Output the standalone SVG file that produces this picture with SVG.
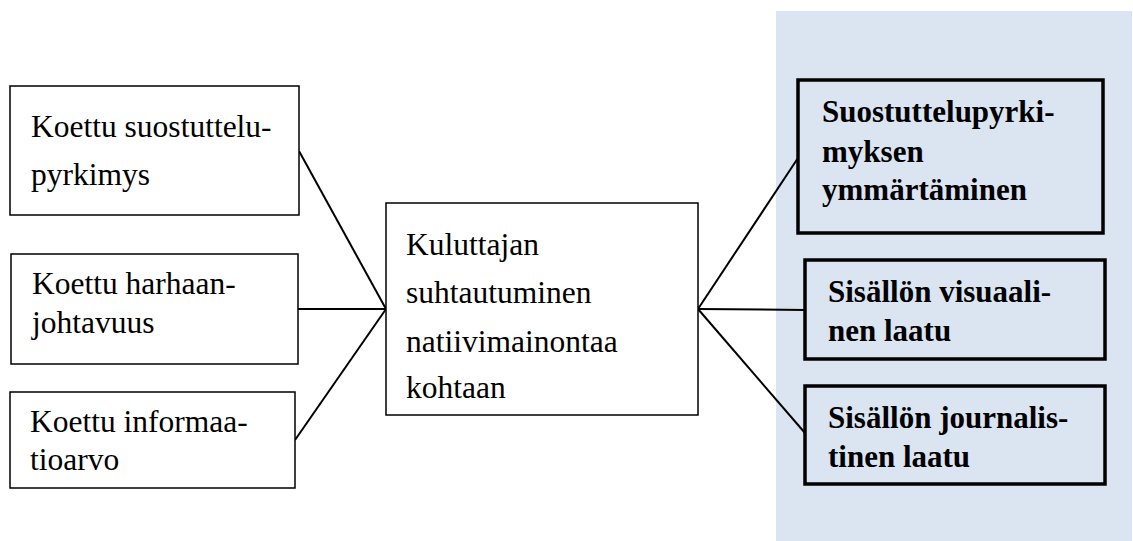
<svg xmlns="http://www.w3.org/2000/svg" width="1133" height="541" viewBox="0 0 1133 541">
<style>
.bg{fill:#ffffff}
.panel{fill:#dbe5f1}
.box{fill:#ffffff;stroke:#000;stroke-width:1.5}
.bbox{fill:#dbe5f1;stroke:#000;stroke-width:3.5}
.t{font-family:"Liberation Serif","Times New Roman",serif;font-size:31.5px;fill:#000}
.tb{font-family:"Liberation Serif","Times New Roman",serif;font-size:31px;font-weight:bold;fill:#000}
.c{stroke:#000;stroke-width:2;fill:none}
</style>
<rect class="bg" x="0" y="0" width="1133" height="541"/>
<rect id="panel" class="panel" x="776" y="11" width="356" height="530"/>
<g id="connectors">
<line class="c" x1="299" y1="151" x2="386" y2="309"/>
<line class="c" x1="298" y1="309" x2="386" y2="309"/>
<line class="c" x1="295" y1="440" x2="386" y2="309"/>
<line class="c" x1="698" y1="309" x2="798" y2="158"/>
<line class="c" x1="698" y1="309" x2="805" y2="310"/>
<line class="c" x1="698" y1="309" x2="805" y2="433"/>
</g>
<g id="n1">
<rect class="box" x="10" y="86" width="289" height="129"/>
<text class="t" x="31" y="137">Koettu suostuttelu-</text>
<text class="t" x="31" y="185">pyrkimys</text>
</g>
<g id="n2">
<rect class="box" x="11" y="254" width="287" height="110"/>
<text class="t" x="32" y="294">Koettu harhaan-</text>
<text class="t" x="32" y="333">johtavuus</text>
</g>
<g id="n3">
<rect class="box" x="10" y="392" width="285" height="96"/>
<text class="t" x="30" y="432">Koettu informaa-</text>
<text class="t" x="30" y="470">tioarvo</text>
</g>
<g id="center">
<rect class="box" x="386" y="203" width="312" height="212"/>
<text class="t" x="406" y="255">Kuluttajan</text>
<text class="t" x="406" y="303">suhtautuminen</text>
<text class="t" x="406" y="352">natiivimainontaa</text>
<text class="t" x="406" y="398">kohtaan</text>
</g>
<g id="r1">
<rect class="bbox" x="798" y="80" width="305" height="153"/>
<text class="tb" x="822" y="122">Suostuttelupyrki-</text>
<text class="tb" x="822" y="162">myksen</text>
<text class="tb" x="822" y="200">ymmärtäminen</text>
</g>
<g id="r2">
<rect class="bbox" x="805" y="260" width="300" height="99"/>
<text class="tb" x="828" y="302">Sisällön visuaali-</text>
<text class="tb" x="828" y="341">nen laatu</text>
</g>
<g id="r3">
<rect class="bbox" x="805" y="386" width="300" height="98"/>
<text class="tb" x="828" y="428">Sisällön journalis-</text>
<text class="tb" x="828" y="467">tinen laatu</text>
</g>
</svg>
